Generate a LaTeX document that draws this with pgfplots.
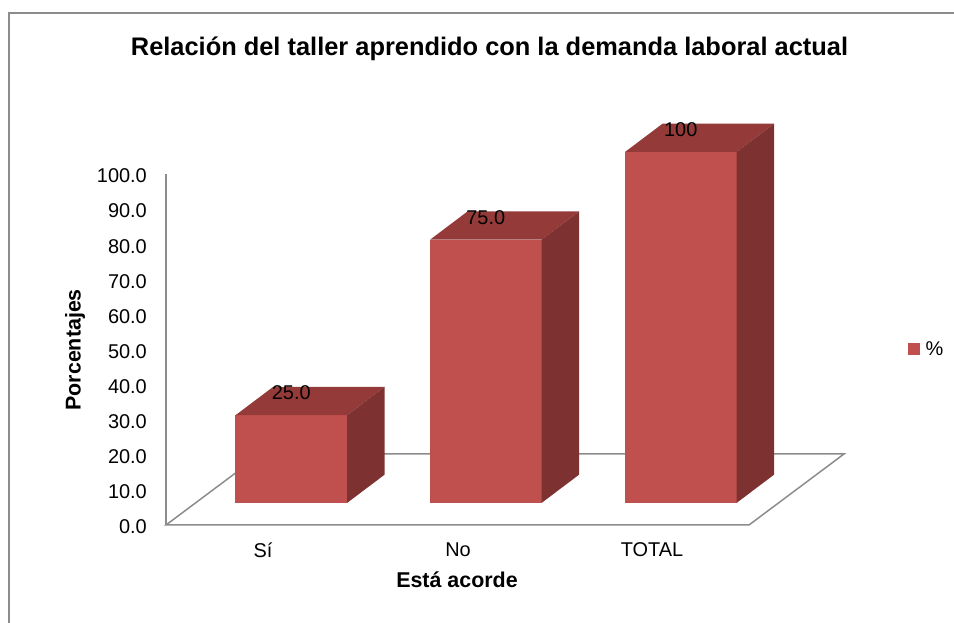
\documentclass[border=0pt]{standalone}
\usepackage{fontspec}
\setmainfont{Liberation Sans}
\usepackage{pgfplots}
\usepackage{pgfplotstable}
\pgfplotsset{compat=1.18}
\definecolor{front}{HTML}{C0504D}
\definecolor{topc}{HTML}{943B39}
\definecolor{side}{HTML}{7D3130}
\definecolor{lin}{HTML}{8C8C8C}

% left edge of front face (px), value (%), label
\pgfplotstableread{
x v lab
235.5 25 25.0
430 75 75.0
625 100 100
}\bars

\def\bw{111.5}
\def\base{6.27}
\def\ddx{37.5}
\def\ddu{8.05}

\begin{document}
\begin{tikzpicture}
\begin{axis}[
  scale only axis, width=678bp, height=351bp,
  xmin=166, xmax=844, ymin=0, ymax=100,
  clip=false,
  axis x line*=bottom, axis y line*=left,
  x axis line style={draw=none},
  y axis line style={draw=lin, line width=1.5bp},
  major tick length=0pt,
  ytick={0,10,...,100},
  xtick={263,458,652}, xticklabels={Sí,No,TOTAL},
  /pgf/number format/assume math mode=true,
  yticklabel style={anchor=east, inner sep=0pt, xshift=-19bp, yshift=-2bp,
    font=\fontsize{20}{24}\selectfont,
    /pgf/number format/fixed, /pgf/number format/fixed zerofill,
    /pgf/number format/precision=1},
  xticklabel style={anchor=center, inner sep=0pt, yshift=-25bp,
    font=\fontsize{20}{24}\selectfont},
  legend style={at={(axis cs:908,50.1)}, anchor=west, draw=none, fill=none,
    inner sep=0pt, font=\fontsize{20}{24}\selectfont,
    nodes={inner sep=0pt, outer sep=0pt}},
]
% frame
\draw[lin, line width=1.5bp] (axis cs:9,145.87) rectangle (axis cs:970,-35);
% floor
\addplot[forget plot, draw=lin, line width=1.5bp] coordinates {(166,0) (749,0) (844,20.23) (261,20.23)} -- cycle;
% bars
\pgfplotsinvokeforeach{0,1,2}{
  \pgfplotstablegetelem{#1}{x}\of\bars \pgfmathsetmacro\xl{\pgfplotsretval}
  \pgfplotstablegetelem{#1}{v}\of\bars \pgfmathsetmacro\vv{\pgfplotsretval}
  \pgfmathsetmacro\xr{\xl+\bw}
  \pgfmathsetmacro\yt{\base+\vv}
  \pgfmathsetmacro\xlb{\xl+\ddx}
  \pgfmathsetmacro\xrb{\xr+\ddx}
  \pgfmathsetmacro\ytb{\yt+\ddu}
  \pgfmathsetmacro\ybb{\base+\ddu}
  \addplot[forget plot, fill=front, draw=none] coordinates {(\xl,\base) (\xr,\base) (\xr,\yt) (\xl,\yt)} -- cycle;
  \addplot[forget plot, fill=topc, draw=none] coordinates {(\xl,\yt) (\xr,\yt) (\xrb,\ytb) (\xlb,\ytb)} -- cycle;
  \addplot[forget plot, fill=side, draw=none] coordinates {(\xr,\base) (\xrb,\ybb) (\xrb,\ytb) (\xr,\yt)} -- cycle;
}
% value labels
\addplot[forget plot, draw=none, mark=none, nodes near coords, point meta=explicit symbolic,
  every node near coord/.append style={anchor=center, inner sep=0pt, font=\fontsize{20}{24}\selectfont}]
  table[x expr=\thisrow{x}+55.75, y expr=\thisrow{v}+12.57, meta=lab] {\bars};
\addlegendimage{legend image code/.code={\fill[front] (0bp,-5.5bp) rectangle (11bp,5.5bp);}}
\addlegendentry{\hspace{6bp}\%}
% titles
\node[font=\bfseries\fontsize{25.5}{30}\selectfont] at (axis cs:489.5,135.6) {Relación del taller aprendido con la demanda laboral actual};
\node[font=\bfseries\fontsize{21.5}{26}\selectfont] at (axis cs:457,-15.7) {Está acorde};
\node[font=\bfseries\fontsize{21.5}{26}\selectfont, rotate=90] at (axis cs:75,49.9) {Porcentajes};
\coordinate (BL) at (axis cs:0,-27.92);
\coordinate (TR) at (axis cs:954,149.57);
\end{axis}
\pgfresetboundingbox
\useasboundingbox (BL) rectangle (TR);
\end{tikzpicture}
\end{document}
